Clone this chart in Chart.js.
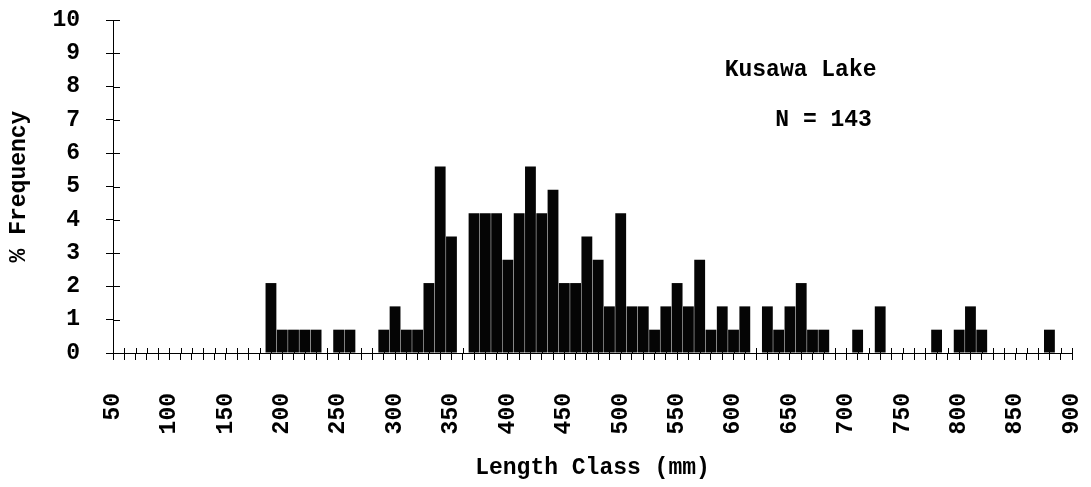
<!DOCTYPE html>
<html>
<head>
<meta charset="utf-8">
<script src="https://cdn.jsdelivr.net/npm/chart.js@4"></script>
<style>
  html, body { margin: 0; padding: 0; background: #fff; }
  #wrap { width: 1091px; height: 487px; position: relative; }
</style>
</head>
<body>
<div id="wrap"><canvas id="lengthChart"></canvas></div>
<script>
// 10 mm length classes, 50 to 900 mm
var lengthClasses = [
    50, 60, 70, 80, 90,
    100, 110, 120, 130, 140, 150, 160, 170, 180, 190,
    200, 210, 220, 230, 240, 250, 260, 270, 280, 290,
    300, 310, 320, 330, 340, 350, 360, 370, 380, 390,
    400, 410, 420, 430, 440, 450, 460, 470, 480, 490,
    500, 510, 520, 530, 540, 550, 560, 570, 580, 590,
    600, 610, 620, 630, 640, 650, 660, 670, 680, 690,
    700, 710, 720, 730, 740, 750, 760, 770, 780, 790,
    800, 810, 820, 830, 840, 850, 860, 870, 880, 890,
    900
];

// % frequency per class (N = 143)
var percentFrequency = [
    0, 0, 0, 0, 0,
    0, 0, 0, 0, 0, 0, 0, 0, 0, 2.1,
    0.7, 0.7, 0.7, 0.7, 0, 0.7, 0.7, 0, 0, 0.7,
    1.4, 0.7, 0.7, 2.1, 5.6, 3.5, 0, 4.2, 4.2, 4.2,
    2.8, 4.2, 5.6, 4.2, 4.9, 2.1, 2.1, 3.5, 2.8, 1.4,
    4.2, 1.4, 1.4, 0.7, 1.4, 2.1, 1.4, 2.8, 0.7, 1.4,
    0.7, 1.4, 0, 1.4, 0.7, 1.4, 2.1, 0.7, 0.7, 0,
    0, 0.7, 0, 1.4, 0, 0, 0, 0, 0.7, 0,
    0.7, 1.4, 0.7, 0, 0, 0, 0, 0, 0.7, 0,
    0
];

var yTicks = [0, 1, 2, 3, 4, 5, 6, 7, 8, 9, 10];
var labelEvery = 50;
var lakeName = 'Kusawa Lake';
var sampleSize = 143;

var monoFont = '"Liberation Mono", "Courier New", monospace';
Chart.defaults.font.family = monoFont;
Chart.defaults.font.weight = 'bold';
Chart.defaults.color = '#000';

// tick marks poke into the plot as well as out of it
var crossTicks = {
    id: 'crossTicks',
    beforeDatasetsDraw: function (chart) {
        var ctx = chart.ctx, area = chart.chartArea;
        var xs = chart.scales.x, ys = chart.scales.y;
        ctx.save();
        ctx.strokeStyle = '#000';
        ctx.lineWidth = 1;
        ctx.beginPath();
        for (var i = 0; i < xs.ticks.length; i++) {
            var px = Math.round(xs.getPixelForTick(i)) + 0.5;
            ctx.moveTo(px, area.bottom);
            ctx.lineTo(px, area.bottom - 5);
        }
        for (var j = 0; j < ys.ticks.length; j++) {
            var py = Math.round(ys.getPixelForTick(j)) + 0.5;
            ctx.moveTo(area.left, py);
            ctx.lineTo(area.left + 7, py);
        }
        ctx.stroke();
        ctx.restore();
    }
};

// lake name and sample size in the upper right
var lakeLabel = {
    id: 'lakeLabel',
    afterDraw: function (chart) {
        var ctx = chart.ctx;
        var xs = chart.scales.x, ys = chart.scales.y;
        ctx.save();
        ctx.fillStyle = '#000';
        ctx.font = 'bold 23px ' + monoFont;
        ctx.textAlign = 'center';
        ctx.textBaseline = 'middle';
        ctx.fillText(lakeName, xs.getPixelForDecimal(0.717), ys.getPixelForValue(8.5));
        ctx.fillText('N = ' + sampleSize, xs.getPixelForDecimal(0.741), ys.getPixelForValue(7));
        ctx.restore();
    }
};

var ctx = document.getElementById('lengthChart').getContext('2d');

var chart = new Chart(ctx, {
    type: 'bar',
    data: {
        labels: lengthClasses.map(String),
        datasets: [
            {
                label: '% Frequency',
                data: percentFrequency,
                backgroundColor: '#050505',
                borderWidth: 0,
                barPercentage: 1,
                categoryPercentage: 0.96
            }
        ]
    },
    plugins: [crossTicks, lakeLabel],
    options: {
        responsive: true,
        maintainAspectRatio: false,
        animation: false,
        layout: { padding: { top: 20, right: 19, bottom: 0, left: 0 } },
        plugins: {
            legend: { display: false },
            tooltip: { enabled: false }
        },
        scales: {
            x: {
                offset: false,
                grid: {
                    offset: false,
                    drawOnChartArea: false,
                    drawTicks: true,
                    tickLength: 7,
                    color: '#000'
                },
                border: { display: true, color: '#000', width: 1 },
                ticks: {
                    autoSkip: false,
                    minRotation: 90,
                    maxRotation: 90,
                    padding: 33,
                    font: { size: 23, weight: 'bold' },
                    callback: function (val, i) {
                        return lengthClasses[i] % labelEvery === 0 ? String(lengthClasses[i]) : '';
                    }
                },
                title: {
                    display: true,
                    text: 'Length Class (mm)',
                    font: { size: 23, weight: 'bold' },
                    padding: { top: 0, bottom: 5 }
                },
                afterFit: function (scale) {
                    scale.height = 134;
                    scale.paddingLeft = 0;
                    scale.paddingRight = 0;
                }
            },
            y: {
                min: yTicks[0],
                max: yTicks[yTicks.length - 1],
                grid: {
                    drawOnChartArea: false,
                    drawTicks: true,
                    tickLength: 7,
                    color: '#000'
                },
                border: { display: true, color: '#000', width: 1 },
                ticks: {
                    stepSize: 1,
                    padding: 26,
                    font: { size: 23, weight: 'bold' }
                },
                title: {
                    display: true,
                    text: '% Frequency',
                    font: { size: 23, weight: 'bold' },
                    padding: { top: 5, bottom: 0 }
                },
                afterFit: function (scale) {
                    scale.width = 113;
                    scale.paddingTop = 0;
                    scale.paddingBottom = 0;
                }
            }
        }
    }
});
</script>
</body>
</html>
